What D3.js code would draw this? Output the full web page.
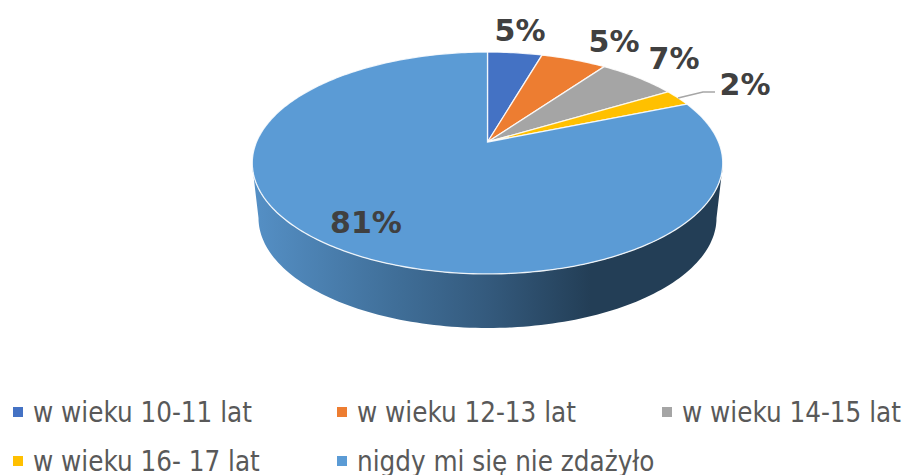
<!DOCTYPE html>
<html>
<head>
<meta charset="utf-8">
<script src="https://cdn.jsdelivr.net/npm/d3@7"></script>
<style>
  html, body { margin: 0; padding: 0; background: #fff; }
  svg { display: block; }
  text { font-family: "DejaVu Sans", sans-serif; }
</style>
</head>
<body>
<div id="pie-chart"></div>
<script>
// Data
const categories = ["w wieku 10-11 lat", "w wieku 12-13 lat", "w wieku 14-15 lat", "w wieku 16- 17 lat", "nigdy mi się nie zdażyło"];
const values = [4.5, 5.4, 6.5, 2.4, 81.2];
const valueLabels = ["5%", "5%", "7%", "2%", "81%"];
const colours = ["#4472c4", "#ed7d31", "#a5a5a5", "#ffc000", "#5b9bd5"];

// Dimensions
const dims = {width: 907, height: 475};
const apex = {x: 487.5, y: 142};
const persp = 0.189;      // perspective of the tilted disc
const radiusX = 231, radiusY = 107;

const svg = d3.select("#pie-chart")
  .append("svg")
  .attr("width", dims.width)
  .attr("height", dims.height);

// Pie function
const pie = d3.pie().sort(null).value(d => d);

// Disc angle to screen point, far edge is squeezed
const project = (angle) => {
  const w = 1 + persp * Math.cos(angle);
  return [apex.x + radiusX * Math.sin(angle) / w, apex.y - radiusY * Math.cos(angle) / w];
};

const line = d3.line();

const slicePath = (d) => {
  const steps = Math.max(2, Math.ceil((d.endAngle - d.startAngle) * 60));
  const pts = d3.range(steps + 1).map(i => project(d.startAngle + (d.endAngle - d.startAngle) * i / steps));
  return line([[apex.x, apex.y], ...pts]) + "Z";
};

// Rim gradient
const grad = svg.append("defs").append("linearGradient")
  .attr("id", "rim")
  .attr("gradientUnits", "userSpaceOnUse")
  .attr("x1", 252).attr("x2", 723).attr("y1", 0).attr("y2", 0);
[[0, "#5590c6"], [0.3, "#406f99"], [0.5, "#345a7d"], [0.72, "#233e56"], [1, "#233e56"]].forEach(s => {
  grad.append("stop").attr("offset", s[0]).attr("stop-color", s[1]);
});

// Rim: lower half of the disc joined to a slightly narrower bottom ellipse
const discCy = apex.y + 21, discRx = 235.5, discRy = 111;
const botCy = 218, botRx = 229, botRy = 110;
const half = d3.range(0, 121).map(i => i / 120 * Math.PI);
const rimPts = [
  ...half.map(t => [apex.x + discRx * Math.cos(t), discCy + discRy * Math.sin(t)]),
  ...half.slice().reverse().map(t => [apex.x + botRx * Math.cos(t), botCy + botRy * Math.sin(t)])
];
svg.append("path")
  .attr("d", line(rimPts) + "Z")
  .attr("fill", "url(#rim)");

// Slices
const slices = pie(values);
svg.append("g").selectAll("path")
  .data(slices)
  .enter().append("path")
    .attr("d", slicePath)
    .attr("fill", (d, i) => colours[i])
    .attr("stroke", "#fff")
    .attr("stroke-opacity", 0.85)
    .attr("stroke-width", 1.3);

// Leader line of the 2% label
svg.append("polyline")
  .attr("points", "678,98 703,92 715,92")
  .attr("fill", "none")
  .attr("stroke", "#a6a6a6")
  .attr("stroke-width", 1.5);

// Value labels
const labelPos = [[520, 41], [614, 52], [674, 69], [745, 95], [366, 233]];
svg.append("g").selectAll("text")
  .data(valueLabels)
  .enter().append("text")
    .attr("x", (d, i) => labelPos[i][0])
    .attr("y", (d, i) => labelPos[i][1])
    .attr("text-anchor", "middle")
    .attr("font-size", 30)
    .attr("font-weight", "bold")
    .attr("fill", "#404040")
    .text(d => d);

// Legend
const legendCols = [13, 337, 662], legendRows = [421.5, 470.5];
const legend = svg.append("g").selectAll("g")
  .data(categories)
  .enter().append("g")
    .attr("transform", (d, i) => `translate(${legendCols[i % 3]}, ${legendRows[Math.floor(i / 3)]})`);
legend.append("rect")
  .attr("y", -14.5)
  .attr("width", 10).attr("height", 10)
  .attr("fill", (d, i) => colours[i]);
legend.append("text")
  .attr("x", 20)
  .attr("font-size", 27.5)
  .attr("font-stretch", "condensed")
  .style("font-family", '"DejaVu Sans Condensed", "DejaVu Sans", sans-serif')
  .attr("fill", "#595959")
  .text(d => d);
</script>
</body>
</html>
